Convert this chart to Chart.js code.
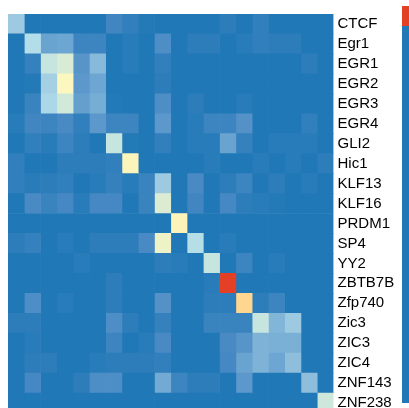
<!DOCTYPE html>
<html>
<head>
<meta charset="utf-8">
<script src="https://cdn.jsdelivr.net/npm/chart.js@4/dist/chart.umd.min.js"></script>
<style>
  html, body { margin: 0; padding: 0; background: #fff; overflow: hidden; }
  #wrap { width: 409px; height: 408px; overflow: hidden; }
  #heat { display: block; }
</style>
</head>
<body>
<div id="wrap"><canvas id="heat" width="409" height="413"></canvas></div>
<script>
// row / column names (same order on both axes)
const motifs = ['CTCF', 'Egr1', 'EGR1', 'EGR2', 'EGR3', 'EGR4', 'GLI2', 'Hic1', 'KLF13', 'KLF16',
  'PRDM1', 'SP4', 'YY2', 'ZBTB7B', 'Zfp740', 'Zic3', 'ZIC3', 'ZIC4', 'ZNF143', 'ZNF238'];

// similarity values, one array per row
const rowCTCF   = [0.30, 0, 0, 0, 0, 0, 0.08, 0.04, 0.01, 0, 0, 0, 0, 0.03, 0, 0.04, 0, 0, 0, 0];
const rowEgr1   = [0, 0.36, 0.17, 0.18, 0.07, 0.07, 0, 0.02, 0, 0.11, 0, 0.03, 0.03, 0, 0.02, 0.04, 0.03, 0.03, 0, 0];
const rowEGR1   = [0, 0.05, 0.42, 0.47, 0.13, 0.24, 0, 0.02, 0, 0.04, 0, 0, 0, 0, 0, 0, 0, 0, 0.03, 0];
const rowEGR2   = [0, 0.01, 0.32, 0.55, 0.14, 0.18, 0, 0, 0, 0.03, 0, 0, 0, 0, 0, 0, 0, 0, 0, 0];
const rowEGR3   = [0, 0.06, 0.34, 0.45, 0.16, 0.20, 0.01, 0, 0, 0.11, 0, 0.03, 0, 0, 0.02, 0, 0, 0, 0, 0];
const rowEGR4   = [0.02, 0.08, 0.07, 0.10, 0.04, 0.14, 0.07, 0.07, 0, 0.14, 0, 0.02, 0.07, 0.07, 0.12, 0, 0, 0, 0.04, 0];
const rowGLI2   = [0, 0.04, 0.02, 0.07, 0.03, 0, 0.42, 0.01, 0, 0.04, 0, 0.02, 0.02, 0.17, 0.05, 0, 0.02, 0.02, 0.02, 0];
const rowHic1   = [0.04, 0, 0, 0.03, 0.03, 0.03, 0.04, 0.56, 0, 0, 0, 0, 0.02, 0, 0, 0.02, 0, 0.02, 0, 0.03];
const rowKLF13  = [0.04, 0.02, 0.03, 0.04, 0, 0.02, 0.05, 0.02, 0.06, 0.30, 0, 0.10, 0, 0.03, 0.07, 0, 0.03, 0, 0.02, 0];
const rowKLF16  = [0, 0.10, 0.06, 0.09, 0.02, 0.09, 0.09, 0, 0.06, 0.48, 0, 0.08, 0, 0.09, 0.03, 0.02, 0.01, 0, 0, 0];
const rowPRDM1  = [0, 0, 0, 0, 0, 0, 0, 0, 0, 0, 0.57, 0, 0, 0, 0, 0, 0, 0, 0, 0];
const rowSP4    = [0.03, 0.05, 0, 0.02, 0, 0.03, 0.03, 0.03, 0.10, 0.52, 0, 0.37, 0, 0.02, 0, 0, 0, 0, 0, 0];
const rowYY2    = [0, 0, 0, 0, 0.02, 0, 0, 0, 0, 0.03, 0.02, 0, 0.42, 0, 0.07, 0, 0.02, 0, 0, 0];
const rowZBTB7B = [0, 0, 0, 0, 0, 0, 0.03, 0, 0, 0, 0, 0, 0.02, 1.00, 0, 0, 0, 0, 0, 0];
const rowZfp740 = [0, 0.11, 0, 0.02, 0, 0, 0.03, 0, 0, 0.12, 0, 0, 0.03, 0.03, 0.72, 0.03, 0.07, 0, 0, 0];
const rowZic3   = [0.03, 0.03, 0, 0, 0, 0, 0.11, 0.03, 0, 0.05, 0, 0, 0.06, 0.06, 0.06, 0.42, 0.23, 0.30, 0, 0];
const rowZIC3   = [0, 0.02, 0, 0, 0, 0, 0.07, 0, 0.02, 0.10, 0, 0, 0, 0.10, 0.13, 0.22, 0.21, 0.21, 0, 0];
const rowZIC4   = [0, 0.03, 0.03, 0, 0, 0.02, 0.03, 0.03, 0.03, 0.04, 0, 0, 0, 0.09, 0.17, 0.22, 0.18, 0.26, 0, 0];
const rowZNF143 = [0, 0.09, 0, 0, 0.03, 0.11, 0.11, 0, 0, 0.19, 0.07, 0.03, 0.03, 0, 0.14, 0, 0, 0, 0.26, 0];
const rowZNF238 = [0, 0, 0, 0, 0, 0, 0, 0, 0, 0, 0, 0, 0, 0, 0, 0, 0, 0, 0, 0.44];

const matrix = [rowCTCF, rowEgr1, rowEGR1, rowEGR2, rowEGR3, rowEGR4, rowGLI2, rowHic1, rowKLF13, rowKLF16,
  rowPRDM1, rowSP4, rowYY2, rowZBTB7B, rowZfp740, rowZic3, rowZIC3, rowZIC4, rowZNF143, rowZNF238];

// colour scale: blue -> light blue -> pale yellow -> orange -> red
const stops = [
  [0.00, [32, 120, 182]],
  [0.10, [74, 138, 196]],
  [0.20, [118, 173, 213]],
  [0.30, [158, 202, 225]],
  [0.36, [179, 221, 233]],
  [0.42, [199, 229, 223]],
  [0.48, [219, 236, 210]],
  [0.55, [251, 247, 190]],
  [0.72, [254, 214, 144]],
  [1.00, [227, 64, 38]],
];

function colorFor(v) {
  for (let i = 1; i < stops.length; i++) {
    if (v <= stops[i][0]) {
      const [a, ca] = stops[i - 1];
      const [b, cb] = stops[i];
      const t = (v - a) / (b - a);
      const c = ca.map((x, k) => Math.round(x + (cb[k] - x) * t));
      return `rgb(${c[0]},${c[1]},${c[2]})`;
    }
  }
  const c = stops[stops.length - 1][1];
  return `rgb(${c[0]},${c[1]},${c[2]})`;
}

// one dataset per column, stacked horizontally; every cell is one unit wide
const datasets = motifs.map((name, col) => ({
  label: name,
  data: motifs.map(() => 1),
  backgroundColor: matrix.map(row => colorFor(row[col])),
  borderWidth: 0,
  barPercentage: 1,
  categoryPercentage: 1,
}));

// thin scale bar at the right edge
const scaleBar = {
  id: 'scaleBar',
  afterDraw(chart) {
    const ctx = chart.ctx;
    const x = 402, w = 7;
    ctx.save();
    ctx.fillStyle = colorFor(1);
    ctx.fillRect(x, 6, w, 20);
    ctx.fillStyle = colorFor(0);
    ctx.fillRect(x, 26, w, 377);
    ctx.restore();
  }
};

new Chart(document.getElementById('heat'), {
  type: 'bar',
  data: { labels: motifs, datasets },
  options: {
    indexAxis: 'y',
    responsive: false,
    animation: false,
    layout: { padding: { top: 14, left: 8, right: 0, bottom: 0 } },
    plugins: { legend: { display: false }, tooltip: { enabled: false } },
    scales: {
      x: { stacked: true, min: 0, max: motifs.length, display: false },
      y: {
        stacked: true,
        position: 'right',
        grid: { display: false, drawTicks: false },
        border: { display: false },
        ticks: {
          color: '#000',
          padding: 4,
          autoSkip: false,
          font: { family: 'Liberation Sans', size: 15 },
        },
        afterFit(scale) {
          scale.width = 75.5;
          scale.paddingTop = 0;
          scale.paddingBottom = 0;
        },
      },
    },
  },
  plugins: [scaleBar],
});
</script>
</body>
</html>
